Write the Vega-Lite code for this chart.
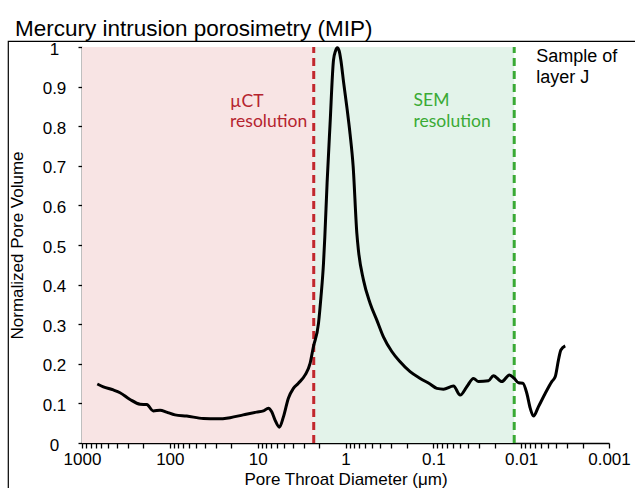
{
  "$schema": "https://vega.github.io/schema/vega-lite/v6.json",
  "width": 628,
  "height": 448,
  "autosize": {"type": "none"},
  "padding": {"left": 8, "top": 41, "right": 0, "bottom": 0},
  "title": {"text": "Mercury intrusion porosimetry (MIP)", "anchor": "start", "frame": "group", "dx": 7, "offset": -18, "baseline": "alphabetic", "fontSize": 22.5, "fontWeight": "normal", "font": "Liberation Sans", "color": "#000000"},
  "config": {"view": {"stroke": "#000000", "strokeWidth": 1.2}, "font": "Liberation Sans"},
  "datasets": {
    "regions": [
      {"region": "µCT", "from": 1000, "to": 2.3},
      {"region": "SEM", "from": 2.3, "to": 0.012}
    ],
    "curve": [
      {"d": 670, "v": 0.149}, {"d": 571, "v": 0.142}, {"d": 440, "v": 0.134}, {"d": 369, "v": 0.127},
      {"d": 284, "v": 0.110}, {"d": 218, "v": 0.098}, {"d": 183, "v": 0.097}, {"d": 154, "v": 0.081},
      {"d": 129, "v": 0.083}, {"d": 109, "v": 0.078}, {"d": 87.3, "v": 0.071}, {"d": 64.3, "v": 0.068},
      {"d": 41.5, "v": 0.062}, {"d": 29.2, "v": 0.061}, {"d": 20.6, "v": 0.064}, {"d": 14.6, "v": 0.071},
      {"d": 10.3, "v": 0.078}, {"d": 8.6, "v": 0.081}, {"d": 7.55, "v": 0.088}, {"d": 6.92, "v": 0.079},
      {"d": 6.34, "v": 0.058}, {"d": 5.66, "v": 0.040}, {"d": 5.09, "v": 0.066}, {"d": 4.47, "v": 0.113},
      {"d": 3.92, "v": 0.138}, {"d": 3.44, "v": 0.151}, {"d": 2.88, "v": 0.172}, {"d": 2.53, "v": 0.201},
      {"d": 2.32, "v": 0.243}, {"d": 2.03, "v": 0.302}, {"d": 1.9, "v": 0.37}, {"d": 1.78, "v": 0.454},
      {"d": 1.72, "v": 0.52}, {"d": 1.62, "v": 0.657}, {"d": 1.5, "v": 0.804}, {"d": 1.37, "v": 0.967},
      {"d": 1.3, "v": 0.99}, {"d": 1.24, "v": 0.998}, {"d": 1.18, "v": 0.99}, {"d": 1.13, "v": 0.967},
      {"d": 1.05, "v": 0.91}, {"d": 0.966, "v": 0.849}, {"d": 0.887, "v": 0.78}, {"d": 0.819, "v": 0.70},
      {"d": 0.743, "v": 0.53}, {"d": 0.713, "v": 0.487}, {"d": 0.625, "v": 0.412}, {"d": 0.525, "v": 0.353},
      {"d": 0.441, "v": 0.311}, {"d": 0.37, "v": 0.268}, {"d": 0.297, "v": 0.231}, {"d": 0.239, "v": 0.205},
      {"d": 0.184, "v": 0.18}, {"d": 0.141, "v": 0.163}, {"d": 0.109, "v": 0.149}, {"d": 0.0912, "v": 0.138},
      {"d": 0.0767, "v": 0.136}, {"d": 0.059, "v": 0.144}, {"d": 0.0495, "v": 0.121}, {"d": 0.0416, "v": 0.142},
      {"d": 0.0349, "v": 0.163}, {"d": 0.0306, "v": 0.155}, {"d": 0.0236, "v": 0.157}, {"d": 0.0207, "v": 0.17},
      {"d": 0.0166, "v": 0.155}, {"d": 0.0136, "v": 0.172}, {"d": 0.012, "v": 0.163}, {"d": 0.0107, "v": 0.152},
      {"d": 0.00957, "v": 0.151}, {"d": 0.00861, "v": 0.125}, {"d": 0.00789, "v": 0.088}, {"d": 0.00724, "v": 0.068},
      {"d": 0.00635, "v": 0.092}, {"d": 0.00533, "v": 0.125}, {"d": 0.00448, "v": 0.155}, {"d": 0.0041, "v": 0.167},
      {"d": 0.00376, "v": 0.21}, {"d": 0.00353, "v": 0.235}, {"d": 0.00315, "v": 0.245}
    ],
    "labels": [
      {"text": "µCT", "x": 20.6, "y": 0.849, "group": "µCT"},
      {"text": "resolution", "x": 20.6, "y": 0.797, "group": "µCT"},
      {"text": "SEM", "x": 0.168, "y": 0.852, "group": "SEM"},
      {"text": "resolution", "x": 0.168, "y": 0.797, "group": "SEM"},
      {"text": "Sample of", "x": 0.00675, "y": 0.963, "group": "sample"},
      {"text": "layer J", "x": 0.00675, "y": 0.908, "group": "sample"}
    ]
  },
  "layer": [
    {
      "data": {"name": "regions"},
      "mark": {"type": "rect"},
      "encoding": {
        "x": {"field": "from", "type": "quantitative",
          "scale": {"type": "log", "domain": [1000, 0.001], "range": [74, 601], "nice": false},
          "axis": {"orient": "bottom", "offset": -46, "title": "Pore Throat Diameter (μm)",
            "values": [1000,900,800,700,600,500,400,300,200,100,90,80,70,60,50,40,30,20,10,9,8,7,6,5,4,3,2,1,0.9,0.8,0.7,0.6,0.5,0.4,0.3,0.2,0.1,0.09,0.08,0.07,0.06,0.05,0.04,0.03,0.02,0.01,0.009,0.008,0.007,0.006,0.005,0.004,0.003,0.002,0.001],
            "format": "~g",
            "labelExpr": "indexof([1000,100,10,1,0.1,0.01,0.001], datum.value) >= 0 ? datum.label : ''",
            "labelOverlap": false, "labelFlush": false, "grid": false,
            "tickSize": 5, "tickColor": "#000000", "tickWidth": 1.3,
            "domainColor": "#000000", "domainWidth": 1.5,
            "labelFontSize": 17, "labelColor": "#000000", "labelPadding": 3,
            "titleFontSize": 17, "titleFontWeight": "normal", "titleColor": "#000000", "titlePadding": 4}},
        "x2": {"field": "to"},
        "y": {"datum": 0, "type": "quantitative",
          "scale": {"domain": [0, 1], "range": [402, 6], "nice": false, "zero": false},
          "axis": {"orient": "left", "offset": -74, "title": "Normalized Pore Volume",
            "values": [0, 0.1, 0.2, 0.3, 0.4, 0.5, 0.6, 0.7, 0.8, 0.9, 1],
            "format": "~g", "grid": false, "labelAlign": "center", "labelPadding": 24, "labelOffset": 2,
            "tickSize": 4, "tickColor": "#000000", "tickWidth": 1.3,
            "domainColor": "#000000", "domainWidth": 1.5,
            "labelFontSize": 17, "labelColor": "#000000",
            "titleFontSize": 17, "titleFontWeight": "normal", "titleColor": "#000000", "titlePadding": 16}},
        "y2": {"datum": 1},
        "fill": {"field": "region", "type": "nominal", "scale": {"domain": ["µCT", "SEM"], "range": ["#f8e4e4", "#e3f3ea"]}, "legend": null}
      }
    },
    {
      "data": {"name": "regions"},
      "mark": {"type": "rule", "strokeWidth": 3, "strokeDash": [8, 5]},
      "encoding": {
        "x": {"field": "to", "type": "quantitative", "scale": {"type": "log", "domain": [1000, 0.001], "range": [74, 601], "nice": false}},
        "y": {"datum": 0, "type": "quantitative", "scale": {"domain": [0, 1], "range": [402, 6], "nice": false, "zero": false}},
        "y2": {"datum": 1},
        "stroke": {"field": "region", "type": "nominal", "scale": {"domain": ["µCT", "SEM"], "range": ["#c1272d", "#3aaa35"]}, "legend": null}
      }
    },
    {
      "data": {"name": "curve"},
      "mark": {"type": "line", "color": "#000000", "strokeWidth": 3, "interpolate": "monotone"},
      "encoding": {
        "x": {"field": "d", "type": "quantitative", "scale": {"type": "log", "domain": [1000, 0.001], "range": [74, 601], "nice": false}},
        "y": {"field": "v", "type": "quantitative", "scale": {"domain": [0, 1], "range": [402, 6], "nice": false, "zero": false}}
      }
    },
    {
      "data": {"name": "labels"},
      "transform": [{"filter": "datum.group != 'sample'"}],
      "mark": {"type": "text", "align": "left", "baseline": "alphabetic", "font": "Lato", "fontSize": 17.5},
      "encoding": {
        "x": {"field": "x", "type": "quantitative", "scale": {"type": "log", "domain": [1000, 0.001], "range": [74, 601], "nice": false}},
        "y": {"field": "y", "type": "quantitative", "scale": {"domain": [0, 1], "range": [402, 6], "nice": false, "zero": false}},
        "text": {"field": "text"},
        "color": {"field": "group", "type": "nominal", "scale": {"domain": ["µCT", "SEM", "sample"], "range": ["#b5232e", "#3aaa35", "#000000"]}, "legend": null}
      }
    },
    {
      "data": {"name": "labels"},
      "transform": [{"filter": "datum.group == 'sample'"}],
      "mark": {"type": "text", "align": "left", "baseline": "alphabetic", "font": "Liberation Sans", "fontSize": 18},
      "encoding": {
        "x": {"field": "x", "type": "quantitative", "scale": {"type": "log", "domain": [1000, 0.001], "range": [74, 601], "nice": false}},
        "y": {"field": "y", "type": "quantitative", "scale": {"domain": [0, 1], "range": [402, 6], "nice": false, "zero": false}},
        "text": {"field": "text"},
        "color": {"field": "group", "type": "nominal", "scale": {"domain": ["µCT", "SEM", "sample"], "range": ["#b5232e", "#3aaa35", "#000000"]}, "legend": null}
      }
    }
  ]
}
